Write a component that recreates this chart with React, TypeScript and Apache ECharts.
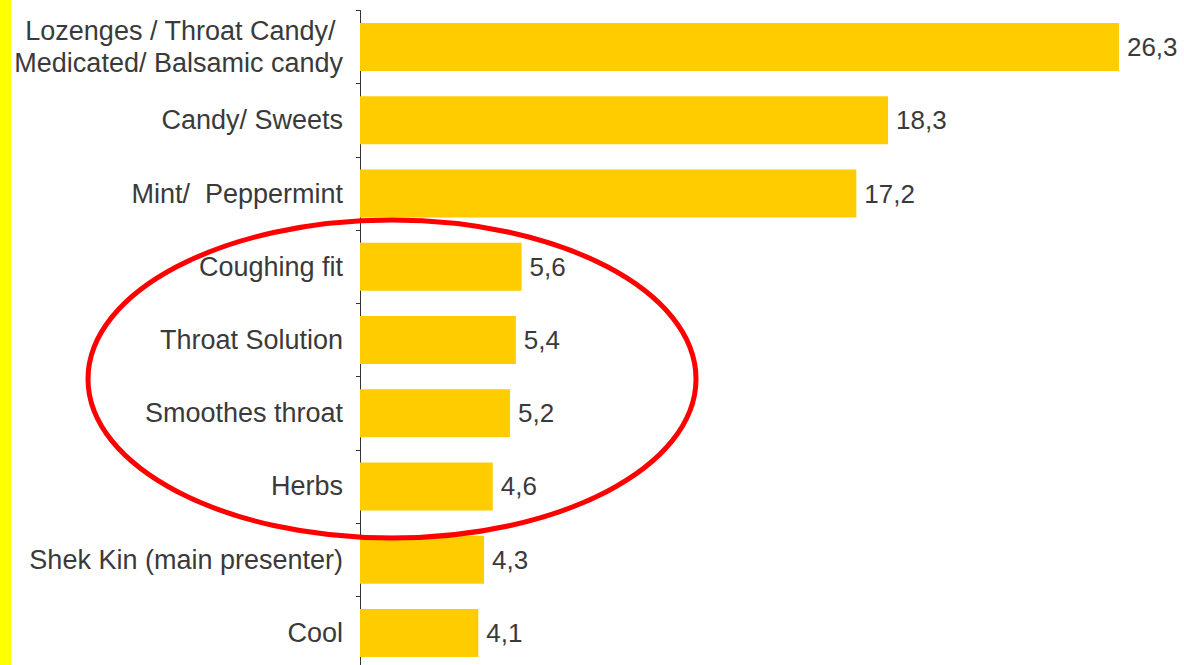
import React, { useEffect, useRef } from "react";
import * as echarts from "echarts";

const categories = [
  "Lozenges / Throat Candy/ \nMedicated/ Balsamic candy",
  "Candy/ Sweets",
  "Mint/  Peppermint",
  "Coughing fit",
  "Throat Solution",
  "Smoothes throat",
  "Herbs",
  "Shek Kin (main presenter)",
  "Cool",
];
const values = [26.3, 18.3, 17.2, 5.6, 5.4, 5.2, 4.6, 4.3, 4.1];

export default function App() {
  const ref = useRef<HTMLDivElement>(null);
  useEffect(() => {
    if (!ref.current) return;
    const chart = echarts.init(ref.current, null, { renderer: "svg" });
    const font = "'Liberation Sans', Arial, sans-serif";
    chart.setOption({
      animation: false,
      backgroundColor: "#ffffff",
      grid: { left: 360, right: 16, top: 10.5, height: 659, containLabel: false },
      xAxis: {
        type: "value",
        min: 0,
        max: 28,
        show: false,
      },
      yAxis: {
        type: "category",
        inverse: true,
        data: categories,
        axisLine: { show: true, lineStyle: { color: "#333333", width: 1 } },
        axisTick: { show: true, length: 4, lineStyle: { color: "#333333" } },
        axisLabel: {
          color: "#3a3a3a",
          fontFamily: font,
          fontSize: 27,
          lineHeight: 32,
          margin: 17,
          align: "right",
        },
        splitLine: { show: false },
      },
      series: [
        {
          type: "bar",
          data: values,
          barWidth: 48,
          itemStyle: { color: "#FFCC00" },
          label: {
            show: true,
            position: "right",
            distance: 8,
            color: "#3a3a3a",
            fontFamily: font,
            fontSize: 26,
            formatter: (p: any) => String(p.value).replace(".", ","),
          },
        },
      ],
      graphic: [
        {
          type: "rect",
          shape: { x: 0, y: 0, width: 11, height: 680 },
          style: { fill: "#ffff00" },
          z: 10,
        },
        {
          type: "ellipse",
          shape: { cx: 392, cy: 379, rx: 304, ry: 159 },
          style: { fill: "none", stroke: "#ff0000", lineWidth: 5 },
          z: 100,
        },
      ],
    });
    return () => chart.dispose();
  }, []);
  return (
    <div
      style={{
        position: "fixed",
        left: 0,
        top: 0,
        width: 1184,
        height: 665,
        overflow: "hidden",
        background: "#ffffff",
      }}
    >
      <div ref={ref} style={{ width: 1184, height: 680 }} />
    </div>
  );
}
